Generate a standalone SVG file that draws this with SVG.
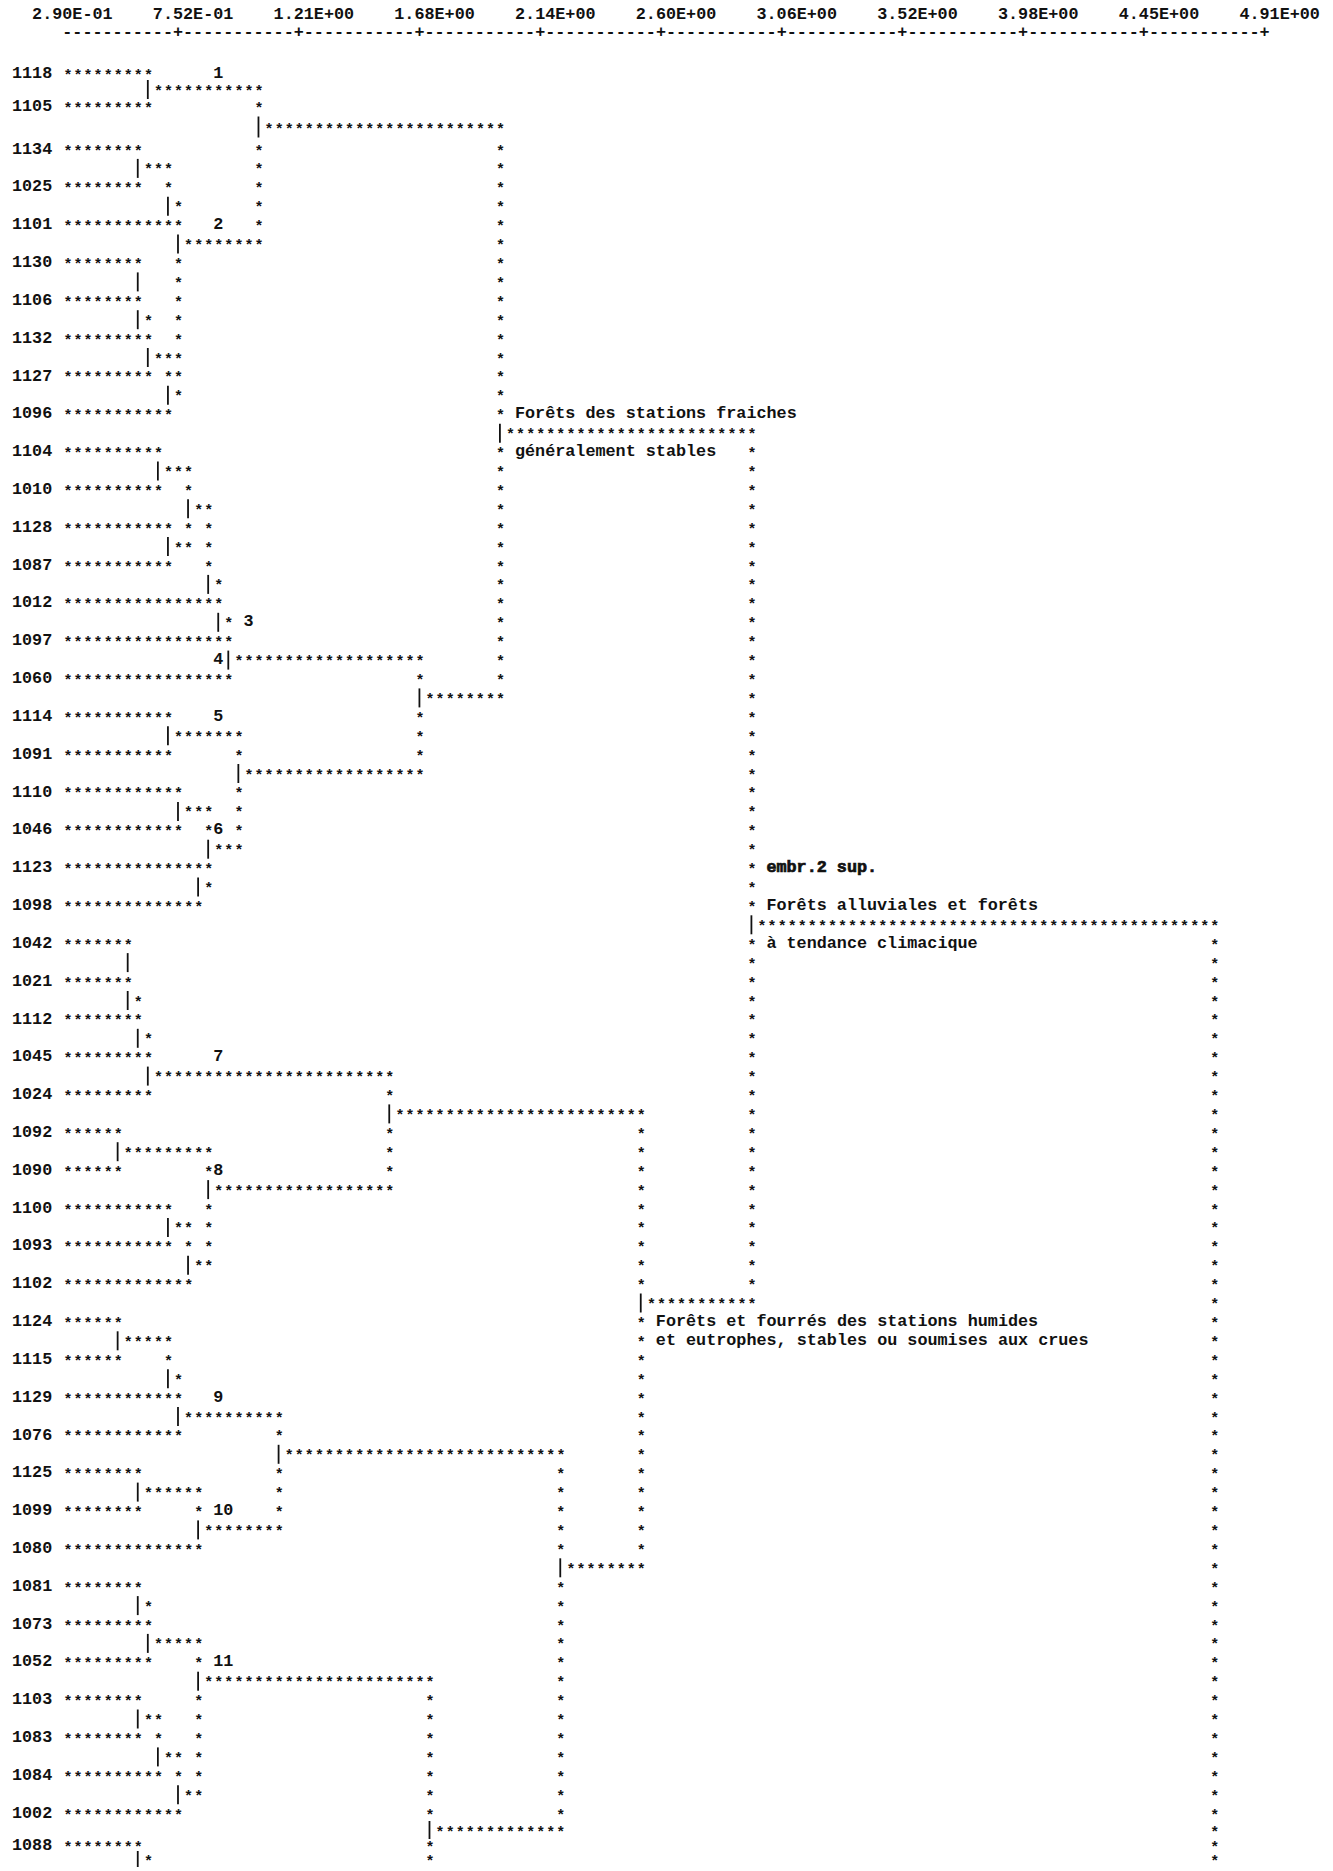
<svg xmlns="http://www.w3.org/2000/svg" width="1333" height="1871" viewBox="0 0 1333 1871">
<style>
.t{font-family:"Liberation Mono","DejaVu Sans Mono",monospace;font-size:16.77px;font-weight:bold;fill:#111}
.s{font-family:"Liberation Mono","DejaVu Sans Mono",monospace;font-size:15px;font-weight:bold;letter-spacing:1.06px;fill:#111}
.b{stroke:#111;stroke-width:1.8;fill:none}
.e{stroke:#111;stroke-width:0.7}
</style>
<rect width="1333" height="1871" fill="#fff"/>
<g id="axis">
<text class="t" x="32.12" y="18.5" xml:space="preserve">2.90E-01    7.52E-01    1.21E+00    1.68E+00    2.14E+00    2.60E+00    3.06E+00    3.52E+00    3.98E+00    4.45E+00    4.91E+00</text>
<text class="t" x="62.3" y="37">-----------+-----------+-----------+-----------+-----------+-----------+-----------+-----------+-----------+-----------+</text>
</g>
<g id="leaves">
<g id="leaf-1118" transform="translate(12,72)"><text class="t" y="5.6">1118</text></g>
<g id="leaf-1105" transform="translate(12,105)"><text class="t" y="5.6">1105</text></g>
<g id="leaf-1134" transform="translate(12,148)"><text class="t" y="5.6">1134</text></g>
<g id="leaf-1025" transform="translate(12,185.8)"><text class="t" y="5.6">1025</text></g>
<g id="leaf-1101" transform="translate(12,223.6)"><text class="t" y="5.6">1101</text></g>
<g id="leaf-1130" transform="translate(12,261.5)"><text class="t" y="5.6">1130</text></g>
<g id="leaf-1106" transform="translate(12,299.3)"><text class="t" y="5.6">1106</text></g>
<g id="leaf-1132" transform="translate(12,337.1)"><text class="t" y="5.6">1132</text></g>
<g id="leaf-1127" transform="translate(12,374.9)"><text class="t" y="5.6">1127</text></g>
<g id="leaf-1096" transform="translate(12,412.7)"><text class="t" y="5.6">1096</text></g>
<g id="leaf-1104" transform="translate(12,450.6)"><text class="t" y="5.6">1104</text></g>
<g id="leaf-1010" transform="translate(12,488.4)"><text class="t" y="5.6">1010</text></g>
<g id="leaf-1128" transform="translate(12,526.2)"><text class="t" y="5.6">1128</text></g>
<g id="leaf-1087" transform="translate(12,564)"><text class="t" y="5.6">1087</text></g>
<g id="leaf-1012" transform="translate(12,601.8)"><text class="t" y="5.6">1012</text></g>
<g id="leaf-1097" transform="translate(12,639.7)"><text class="t" y="5.6">1097</text></g>
<g id="leaf-1060" transform="translate(12,677.5)"><text class="t" y="5.6">1060</text></g>
<g id="leaf-1114" transform="translate(12,715.3)"><text class="t" y="5.6">1114</text></g>
<g id="leaf-1091" transform="translate(12,753.1)"><text class="t" y="5.6">1091</text></g>
<g id="leaf-1110" transform="translate(12,790.9)"><text class="t" y="5.6">1110</text></g>
<g id="leaf-1046" transform="translate(12,828.8)"><text class="t" y="5.6">1046</text></g>
<g id="leaf-1123" transform="translate(12,866.6)"><text class="t" y="5.6">1123</text></g>
<g id="leaf-1098" transform="translate(12,904.4)"><text class="t" y="5.6">1098</text></g>
<g id="leaf-1042" transform="translate(12,942.2)"><text class="t" y="5.6">1042</text></g>
<g id="leaf-1021" transform="translate(12,980)"><text class="t" y="5.6">1021</text></g>
<g id="leaf-1112" transform="translate(12,1017.9)"><text class="t" y="5.6">1112</text></g>
<g id="leaf-1045" transform="translate(12,1055.7)"><text class="t" y="5.6">1045</text></g>
<g id="leaf-1024" transform="translate(12,1093.5)"><text class="t" y="5.6">1024</text></g>
<g id="leaf-1092" transform="translate(12,1131.3)"><text class="t" y="5.6">1092</text></g>
<g id="leaf-1090" transform="translate(12,1169.1)"><text class="t" y="5.6">1090</text></g>
<g id="leaf-1100" transform="translate(12,1207)"><text class="t" y="5.6">1100</text></g>
<g id="leaf-1093" transform="translate(12,1244.8)"><text class="t" y="5.6">1093</text></g>
<g id="leaf-1102" transform="translate(12,1282.6)"><text class="t" y="5.6">1102</text></g>
<g id="leaf-1124" transform="translate(12,1320.4)"><text class="t" y="5.6">1124</text></g>
<g id="leaf-1115" transform="translate(12,1358.2)"><text class="t" y="5.6">1115</text></g>
<g id="leaf-1129" transform="translate(12,1396.1)"><text class="t" y="5.6">1129</text></g>
<g id="leaf-1076" transform="translate(12,1433.9)"><text class="t" y="5.6">1076</text></g>
<g id="leaf-1125" transform="translate(12,1471.7)"><text class="t" y="5.6">1125</text></g>
<g id="leaf-1099" transform="translate(12,1509.5)"><text class="t" y="5.6">1099</text></g>
<g id="leaf-1080" transform="translate(12,1547.3)"><text class="t" y="5.6">1080</text></g>
<g id="leaf-1081" transform="translate(12,1585.2)"><text class="t" y="5.6">1081</text></g>
<g id="leaf-1073" transform="translate(12,1623)"><text class="t" y="5.6">1073</text></g>
<g id="leaf-1052" transform="translate(12,1660.8)"><text class="t" y="5.6">1052</text></g>
<g id="leaf-1103" transform="translate(12,1698.6)"><text class="t" y="5.6">1103</text></g>
<g id="leaf-1083" transform="translate(12,1736.4)"><text class="t" y="5.6">1083</text></g>
<g id="leaf-1084" transform="translate(12,1774.3)"><text class="t" y="5.6">1084</text></g>
<g id="leaf-1002" transform="translate(12,1812.1)"><text class="t" y="5.6">1002</text></g>
<g id="leaf-1088" transform="translate(12,1844)"><text class="t" y="5.6">1088</text></g>
</g>
<g id="cluster-numbers">
<g id="c1"><text class="t" x="213.2" y="77.6">1</text></g>
<g id="c2"><text class="t" x="213.2" y="229.2">2</text></g>
<g id="c3"><text class="t" x="243.38" y="626.4">3</text></g>
<g id="c4"><text class="t" x="213.2" y="664.2">4</text></g>
<g id="c5"><text class="t" x="213.2" y="720.9">5</text></g>
<g id="c6"><text class="t" x="213.2" y="834.4">6</text></g>
<g id="c7"><text class="t" x="213.2" y="1061.3">7</text></g>
<g id="c8"><text class="t" x="213.2" y="1174.7">8</text></g>
<g id="c9"><text class="t" x="213.2" y="1401.7">9</text></g>
<g id="c10"><text class="t" x="213.2" y="1515.1">10</text></g>
<g id="c11"><text class="t" x="213.2" y="1666.4">11</text></g>
</g>
<g id="groups">
<g id="grp-fraiches"><text class="t" x="515" y="418.3">Forêts des stations fraiches</text><text class="t" x="515" y="456.2">généralement stables</text></g>
<g id="grp-embr"><text class="t e" x="766.4" y="872.2">embr.2 sup.</text></g>
<g id="grp-alluviales"><text class="t" x="766.4" y="910">Forêts alluviales et forêts</text><text class="t" x="766.4" y="947.8">à tendance climacique</text></g>
<g id="grp-humides"><text class="t" x="655.84" y="1326">Forêts et fourrés des stations humides</text><text class="t" x="655.84" y="1344.9">et eutrophes, stables ou soumises aux crues</text></g>
</g>
<g id="connectors">
<g transform="translate(0,72)"><text class="s" y="7.5"><tspan x="63.4">*********</tspan></text></g>
<g transform="translate(0,88)"><path class="b" d="M147.81 -8V11"/><text class="s" y="7.5"><tspan x="153.94">***********</tspan></text></g>
<g transform="translate(0,105)"><text class="s" y="7.5"><tspan x="63.4">*********</tspan><tspan x="254.54">*</tspan></text></g>
<g transform="translate(0,126.5)"><path class="b" d="M258.47 -10V11"/><text class="s" y="7.5"><tspan x="264.6">************************</tspan></text></g>
<g transform="translate(0,148)"><text class="s" y="7.5"><tspan x="63.4">********</tspan><tspan x="254.54">*</tspan><tspan x="495.98">*</tspan></text></g>
<g transform="translate(0,166.9)"><path class="b" d="M137.75 -8V11"/><text class="s" y="7.5"><tspan x="143.88">***</tspan><tspan x="254.54">*</tspan><tspan x="495.98">*</tspan></text></g>
<g transform="translate(0,185.8)"><text class="s" y="7.5"><tspan x="63.4">********</tspan><tspan x="164">*</tspan><tspan x="254.54">*</tspan><tspan x="495.98">*</tspan></text></g>
<g transform="translate(0,204.7)"><path class="b" d="M167.93 -8V11"/><text class="s" y="7.5"><tspan x="174.06">*</tspan><tspan x="254.54">*</tspan><tspan x="495.98">*</tspan></text></g>
<g transform="translate(0,223.6)"><text class="s" y="7.5"><tspan x="63.4">************</tspan><tspan x="254.54">*</tspan><tspan x="495.98">*</tspan></text></g>
<g transform="translate(0,242.6)"><path class="b" d="M177.99 -8V11"/><text class="s" y="7.5"><tspan x="184.12">********</tspan><tspan x="495.98">*</tspan></text></g>
<g transform="translate(0,261.5)"><text class="s" y="7.5"><tspan x="63.4">********</tspan><tspan x="174.06">*</tspan><tspan x="495.98">*</tspan></text></g>
<g transform="translate(0,280.4)"><path class="b" d="M137.75 -8V11"/><text class="s" y="7.5"><tspan x="174.06">*</tspan><tspan x="495.98">*</tspan></text></g>
<g transform="translate(0,299.3)"><text class="s" y="7.5"><tspan x="63.4">********</tspan><tspan x="174.06">*</tspan><tspan x="495.98">*</tspan></text></g>
<g transform="translate(0,318.2)"><path class="b" d="M137.75 -8V11"/><text class="s" y="7.5"><tspan x="143.88">*</tspan><tspan x="174.06">*</tspan><tspan x="495.98">*</tspan></text></g>
<g transform="translate(0,337.1)"><text class="s" y="7.5"><tspan x="63.4">*********</tspan><tspan x="174.06">*</tspan><tspan x="495.98">*</tspan></text></g>
<g transform="translate(0,356)"><path class="b" d="M147.81 -8V11"/><text class="s" y="7.5"><tspan x="153.94">***</tspan><tspan x="495.98">*</tspan></text></g>
<g transform="translate(0,374.9)"><text class="s" y="7.5"><tspan x="63.4">*********</tspan><tspan x="164">**</tspan><tspan x="495.98">*</tspan></text></g>
<g transform="translate(0,393.8)"><path class="b" d="M167.93 -8V11"/><text class="s" y="7.5"><tspan x="174.06">*</tspan><tspan x="495.98">*</tspan></text></g>
<g transform="translate(0,412.7)"><text class="s" y="7.5"><tspan x="63.4">***********</tspan><tspan x="495.98">*</tspan></text></g>
<g transform="translate(0,431.7)"><path class="b" d="M499.91 -8V11"/><text class="s" y="7.5"><tspan x="506.04">*************************</tspan></text></g>
<g transform="translate(0,450.6)"><text class="s" y="7.5"><tspan x="63.4">**********</tspan><tspan x="495.98">*</tspan><tspan x="747.48">*</tspan></text></g>
<g transform="translate(0,469.5)"><path class="b" d="M157.87 -8V11"/><text class="s" y="7.5"><tspan x="164">***</tspan><tspan x="495.98">*</tspan><tspan x="747.48">*</tspan></text></g>
<g transform="translate(0,488.4)"><text class="s" y="7.5"><tspan x="63.4">**********</tspan><tspan x="184.12">*</tspan><tspan x="495.98">*</tspan><tspan x="747.48">*</tspan></text></g>
<g transform="translate(0,507.3)"><path class="b" d="M188.05 -8V11"/><text class="s" y="7.5"><tspan x="194.18">**</tspan><tspan x="495.98">*</tspan><tspan x="747.48">*</tspan></text></g>
<g transform="translate(0,526.2)"><text class="s" y="7.5"><tspan x="63.4">***********</tspan><tspan x="184.12">*</tspan><tspan x="204.24">*</tspan><tspan x="495.98">*</tspan><tspan x="747.48">*</tspan></text></g>
<g transform="translate(0,545.1)"><path class="b" d="M167.93 -8V11"/><text class="s" y="7.5"><tspan x="174.06">**</tspan><tspan x="204.24">*</tspan><tspan x="495.98">*</tspan><tspan x="747.48">*</tspan></text></g>
<g transform="translate(0,564)"><text class="s" y="7.5"><tspan x="63.4">***********</tspan><tspan x="204.24">*</tspan><tspan x="495.98">*</tspan><tspan x="747.48">*</tspan></text></g>
<g transform="translate(0,582.9)"><path class="b" d="M208.17 -8V11"/><text class="s" y="7.5"><tspan x="214.3">*</tspan><tspan x="495.98">*</tspan><tspan x="747.48">*</tspan></text></g>
<g transform="translate(0,601.8)"><text class="s" y="7.5"><tspan x="63.4">****************</tspan><tspan x="495.98">*</tspan><tspan x="747.48">*</tspan></text></g>
<g transform="translate(0,620.8)"><path class="b" d="M218.23 -8V11"/><text class="s" y="7.5"><tspan x="224.36">*</tspan><tspan x="495.98">*</tspan><tspan x="747.48">*</tspan></text></g>
<g transform="translate(0,639.7)"><text class="s" y="7.5"><tspan x="63.4">*****************</tspan><tspan x="495.98">*</tspan><tspan x="747.48">*</tspan></text></g>
<g transform="translate(0,658.6)"><path class="b" d="M228.29 -8V11"/><text class="s" y="7.5"><tspan x="234.42">*******************</tspan><tspan x="495.98">*</tspan><tspan x="747.48">*</tspan></text></g>
<g transform="translate(0,677.5)"><text class="s" y="7.5"><tspan x="63.4">*****************</tspan><tspan x="415.5">*</tspan><tspan x="495.98">*</tspan><tspan x="747.48">*</tspan></text></g>
<g transform="translate(0,696.4)"><path class="b" d="M419.43 -8V11"/><text class="s" y="7.5"><tspan x="425.56">********</tspan><tspan x="747.48">*</tspan></text></g>
<g transform="translate(0,715.3)"><text class="s" y="7.5"><tspan x="63.4">***********</tspan><tspan x="415.5">*</tspan><tspan x="747.48">*</tspan></text></g>
<g transform="translate(0,734.2)"><path class="b" d="M167.93 -8V11"/><text class="s" y="7.5"><tspan x="174.06">*******</tspan><tspan x="415.5">*</tspan><tspan x="747.48">*</tspan></text></g>
<g transform="translate(0,753.1)"><text class="s" y="7.5"><tspan x="63.4">***********</tspan><tspan x="234.42">*</tspan><tspan x="415.5">*</tspan><tspan x="747.48">*</tspan></text></g>
<g transform="translate(0,772)"><path class="b" d="M238.35 -8V11"/><text class="s" y="7.5"><tspan x="244.48">******************</tspan><tspan x="747.48">*</tspan></text></g>
<g transform="translate(0,790.9)"><text class="s" y="7.5"><tspan x="63.4">************</tspan><tspan x="234.42">*</tspan><tspan x="747.48">*</tspan></text></g>
<g transform="translate(0,809.9)"><path class="b" d="M177.99 -8V11"/><text class="s" y="7.5"><tspan x="184.12">***</tspan><tspan x="234.42">*</tspan><tspan x="747.48">*</tspan></text></g>
<g transform="translate(0,828.8)"><text class="s" y="7.5"><tspan x="63.4">************</tspan><tspan x="204.24">*</tspan><tspan x="234.42">*</tspan><tspan x="747.48">*</tspan></text></g>
<g transform="translate(0,847.7)"><path class="b" d="M208.17 -8V11"/><text class="s" y="7.5"><tspan x="214.3">***</tspan><tspan x="747.48">*</tspan></text></g>
<g transform="translate(0,866.6)"><text class="s" y="7.5"><tspan x="63.4">***************</tspan><tspan x="747.48">*</tspan></text></g>
<g transform="translate(0,885.5)"><path class="b" d="M198.11 -8V11"/><text class="s" y="7.5"><tspan x="204.24">*</tspan><tspan x="747.48">*</tspan></text></g>
<g transform="translate(0,904.4)"><text class="s" y="7.5"><tspan x="63.4">**************</tspan><tspan x="747.48">*</tspan></text></g>
<g transform="translate(0,923.3)"><path class="b" d="M751.41 -8V11"/><text class="s" y="7.5"><tspan x="757.54">**********************************************</tspan></text></g>
<g transform="translate(0,942.2)"><text class="s" y="7.5"><tspan x="63.4">*******</tspan><tspan x="747.48">*</tspan><tspan x="1210.24">*</tspan></text></g>
<g transform="translate(0,961.1)"><path class="b" d="M127.69 -8V11"/><text class="s" y="7.5"><tspan x="747.48">*</tspan><tspan x="1210.24">*</tspan></text></g>
<g transform="translate(0,980)"><text class="s" y="7.5"><tspan x="63.4">*******</tspan><tspan x="747.48">*</tspan><tspan x="1210.24">*</tspan></text></g>
<g transform="translate(0,999)"><path class="b" d="M127.69 -8V11"/><text class="s" y="7.5"><tspan x="133.82">*</tspan><tspan x="747.48">*</tspan><tspan x="1210.24">*</tspan></text></g>
<g transform="translate(0,1017.9)"><text class="s" y="7.5"><tspan x="63.4">********</tspan><tspan x="747.48">*</tspan><tspan x="1210.24">*</tspan></text></g>
<g transform="translate(0,1036.8)"><path class="b" d="M137.75 -8V11"/><text class="s" y="7.5"><tspan x="143.88">*</tspan><tspan x="747.48">*</tspan><tspan x="1210.24">*</tspan></text></g>
<g transform="translate(0,1055.7)"><text class="s" y="7.5"><tspan x="63.4">*********</tspan><tspan x="747.48">*</tspan><tspan x="1210.24">*</tspan></text></g>
<g transform="translate(0,1074.6)"><path class="b" d="M147.81 -8V11"/><text class="s" y="7.5"><tspan x="153.94">************************</tspan><tspan x="747.48">*</tspan><tspan x="1210.24">*</tspan></text></g>
<g transform="translate(0,1093.5)"><text class="s" y="7.5"><tspan x="63.4">*********</tspan><tspan x="385.32">*</tspan><tspan x="747.48">*</tspan><tspan x="1210.24">*</tspan></text></g>
<g transform="translate(0,1112.4)"><path class="b" d="M389.25 -8V11"/><text class="s" y="7.5"><tspan x="395.38">*************************</tspan><tspan x="747.48">*</tspan><tspan x="1210.24">*</tspan></text></g>
<g transform="translate(0,1131.3)"><text class="s" y="7.5"><tspan x="63.4">******</tspan><tspan x="385.32">*</tspan><tspan x="636.82">*</tspan><tspan x="747.48">*</tspan><tspan x="1210.24">*</tspan></text></g>
<g transform="translate(0,1150.2)"><path class="b" d="M117.63 -8V11"/><text class="s" y="7.5"><tspan x="123.76">*********</tspan><tspan x="385.32">*</tspan><tspan x="636.82">*</tspan><tspan x="747.48">*</tspan><tspan x="1210.24">*</tspan></text></g>
<g transform="translate(0,1169.1)"><text class="s" y="7.5"><tspan x="63.4">******</tspan><tspan x="204.24">*</tspan><tspan x="385.32">*</tspan><tspan x="636.82">*</tspan><tspan x="747.48">*</tspan><tspan x="1210.24">*</tspan></text></g>
<g transform="translate(0,1188.1)"><path class="b" d="M208.17 -8V11"/><text class="s" y="7.5"><tspan x="214.3">******************</tspan><tspan x="636.82">*</tspan><tspan x="747.48">*</tspan><tspan x="1210.24">*</tspan></text></g>
<g transform="translate(0,1207)"><text class="s" y="7.5"><tspan x="63.4">***********</tspan><tspan x="204.24">*</tspan><tspan x="636.82">*</tspan><tspan x="747.48">*</tspan><tspan x="1210.24">*</tspan></text></g>
<g transform="translate(0,1225.9)"><path class="b" d="M167.93 -8V11"/><text class="s" y="7.5"><tspan x="174.06">**</tspan><tspan x="204.24">*</tspan><tspan x="636.82">*</tspan><tspan x="747.48">*</tspan><tspan x="1210.24">*</tspan></text></g>
<g transform="translate(0,1244.8)"><text class="s" y="7.5"><tspan x="63.4">***********</tspan><tspan x="184.12">*</tspan><tspan x="204.24">*</tspan><tspan x="636.82">*</tspan><tspan x="747.48">*</tspan><tspan x="1210.24">*</tspan></text></g>
<g transform="translate(0,1263.7)"><path class="b" d="M188.05 -8V11"/><text class="s" y="7.5"><tspan x="194.18">**</tspan><tspan x="636.82">*</tspan><tspan x="747.48">*</tspan><tspan x="1210.24">*</tspan></text></g>
<g transform="translate(0,1282.6)"><text class="s" y="7.5"><tspan x="63.4">*************</tspan><tspan x="636.82">*</tspan><tspan x="747.48">*</tspan><tspan x="1210.24">*</tspan></text></g>
<g transform="translate(0,1301.5)"><path class="b" d="M640.75 -8V11"/><text class="s" y="7.5"><tspan x="646.88">***********</tspan><tspan x="1210.24">*</tspan></text></g>
<g transform="translate(0,1320.4)"><text class="s" y="7.5"><tspan x="63.4">******</tspan><tspan x="636.82">*</tspan><tspan x="1210.24">*</tspan></text></g>
<g transform="translate(0,1339.3)"><path class="b" d="M117.63 -8V11"/><text class="s" y="7.5"><tspan x="123.76">*****</tspan><tspan x="636.82">*</tspan><tspan x="1210.24">*</tspan></text></g>
<g transform="translate(0,1358.2)"><text class="s" y="7.5"><tspan x="63.4">******</tspan><tspan x="164">*</tspan><tspan x="636.82">*</tspan><tspan x="1210.24">*</tspan></text></g>
<g transform="translate(0,1377.2)"><path class="b" d="M167.93 -8V11"/><text class="s" y="7.5"><tspan x="174.06">*</tspan><tspan x="636.82">*</tspan><tspan x="1210.24">*</tspan></text></g>
<g transform="translate(0,1396.1)"><text class="s" y="7.5"><tspan x="63.4">************</tspan><tspan x="636.82">*</tspan><tspan x="1210.24">*</tspan></text></g>
<g transform="translate(0,1415)"><path class="b" d="M177.99 -8V11"/><text class="s" y="7.5"><tspan x="184.12">**********</tspan><tspan x="636.82">*</tspan><tspan x="1210.24">*</tspan></text></g>
<g transform="translate(0,1433.9)"><text class="s" y="7.5"><tspan x="63.4">************</tspan><tspan x="274.66">*</tspan><tspan x="636.82">*</tspan><tspan x="1210.24">*</tspan></text></g>
<g transform="translate(0,1452.8)"><path class="b" d="M278.59 -8V11"/><text class="s" y="7.5"><tspan x="284.72">****************************</tspan><tspan x="636.82">*</tspan><tspan x="1210.24">*</tspan></text></g>
<g transform="translate(0,1471.7)"><text class="s" y="7.5"><tspan x="63.4">********</tspan><tspan x="274.66">*</tspan><tspan x="556.34">*</tspan><tspan x="636.82">*</tspan><tspan x="1210.24">*</tspan></text></g>
<g transform="translate(0,1490.6)"><path class="b" d="M137.75 -8V11"/><text class="s" y="7.5"><tspan x="143.88">******</tspan><tspan x="274.66">*</tspan><tspan x="556.34">*</tspan><tspan x="636.82">*</tspan><tspan x="1210.24">*</tspan></text></g>
<g transform="translate(0,1509.5)"><text class="s" y="7.5"><tspan x="63.4">********</tspan><tspan x="194.18">*</tspan><tspan x="274.66">*</tspan><tspan x="556.34">*</tspan><tspan x="636.82">*</tspan><tspan x="1210.24">*</tspan></text></g>
<g transform="translate(0,1528.4)"><path class="b" d="M198.11 -8V11"/><text class="s" y="7.5"><tspan x="204.24">********</tspan><tspan x="556.34">*</tspan><tspan x="636.82">*</tspan><tspan x="1210.24">*</tspan></text></g>
<g transform="translate(0,1547.3)"><text class="s" y="7.5"><tspan x="63.4">**************</tspan><tspan x="556.34">*</tspan><tspan x="636.82">*</tspan><tspan x="1210.24">*</tspan></text></g>
<g transform="translate(0,1566.3)"><path class="b" d="M560.27 -8V11"/><text class="s" y="7.5"><tspan x="566.4">********</tspan><tspan x="1210.24">*</tspan></text></g>
<g transform="translate(0,1585.2)"><text class="s" y="7.5"><tspan x="63.4">********</tspan><tspan x="556.34">*</tspan><tspan x="1210.24">*</tspan></text></g>
<g transform="translate(0,1604.1)"><path class="b" d="M137.75 -8V11"/><text class="s" y="7.5"><tspan x="143.88">*</tspan><tspan x="556.34">*</tspan><tspan x="1210.24">*</tspan></text></g>
<g transform="translate(0,1623)"><text class="s" y="7.5"><tspan x="63.4">*********</tspan><tspan x="556.34">*</tspan><tspan x="1210.24">*</tspan></text></g>
<g transform="translate(0,1641.9)"><path class="b" d="M147.81 -8V11"/><text class="s" y="7.5"><tspan x="153.94">*****</tspan><tspan x="556.34">*</tspan><tspan x="1210.24">*</tspan></text></g>
<g transform="translate(0,1660.8)"><text class="s" y="7.5"><tspan x="63.4">*********</tspan><tspan x="194.18">*</tspan><tspan x="556.34">*</tspan><tspan x="1210.24">*</tspan></text></g>
<g transform="translate(0,1679.7)"><path class="b" d="M198.11 -8V11"/><text class="s" y="7.5"><tspan x="204.24">***********************</tspan><tspan x="556.34">*</tspan><tspan x="1210.24">*</tspan></text></g>
<g transform="translate(0,1698.6)"><text class="s" y="7.5"><tspan x="63.4">********</tspan><tspan x="194.18">*</tspan><tspan x="425.56">*</tspan><tspan x="556.34">*</tspan><tspan x="1210.24">*</tspan></text></g>
<g transform="translate(0,1717.5)"><path class="b" d="M137.75 -8V11"/><text class="s" y="7.5"><tspan x="143.88">**</tspan><tspan x="194.18">*</tspan><tspan x="425.56">*</tspan><tspan x="556.34">*</tspan><tspan x="1210.24">*</tspan></text></g>
<g transform="translate(0,1736.4)"><text class="s" y="7.5"><tspan x="63.4">********</tspan><tspan x="153.94">*</tspan><tspan x="194.18">*</tspan><tspan x="425.56">*</tspan><tspan x="556.34">*</tspan><tspan x="1210.24">*</tspan></text></g>
<g transform="translate(0,1755.4)"><path class="b" d="M157.87 -8V11"/><text class="s" y="7.5"><tspan x="164">**</tspan><tspan x="194.18">*</tspan><tspan x="425.56">*</tspan><tspan x="556.34">*</tspan><tspan x="1210.24">*</tspan></text></g>
<g transform="translate(0,1774.3)"><text class="s" y="7.5"><tspan x="63.4">**********</tspan><tspan x="174.06">*</tspan><tspan x="194.18">*</tspan><tspan x="425.56">*</tspan><tspan x="556.34">*</tspan><tspan x="1210.24">*</tspan></text></g>
<g transform="translate(0,1793.2)"><path class="b" d="M177.99 -8V11"/><text class="s" y="7.5"><tspan x="184.12">**</tspan><tspan x="425.56">*</tspan><tspan x="556.34">*</tspan><tspan x="1210.24">*</tspan></text></g>
<g transform="translate(0,1812.1)"><text class="s" y="7.5"><tspan x="63.4">************</tspan><tspan x="425.56">*</tspan><tspan x="556.34">*</tspan><tspan x="1210.24">*</tspan></text></g>
<g transform="translate(0,1829)"><path class="b" d="M429.49 -8V10"/><text class="s" y="7.5"><tspan x="435.62">*************</tspan><tspan x="1210.24">*</tspan></text></g>
<g transform="translate(0,1844)"><text class="s" y="7.5"><tspan x="63.4">********</tspan><tspan x="425.56">*</tspan><tspan x="1210.24">*</tspan></text></g>
<g transform="translate(0,1858)"><path class="b" d="M137.75 -7V9"/><text class="s" y="7.5"><tspan x="143.88">*</tspan><tspan x="425.56">*</tspan><tspan x="1210.24">*</tspan></text></g>
</g>
</svg>
